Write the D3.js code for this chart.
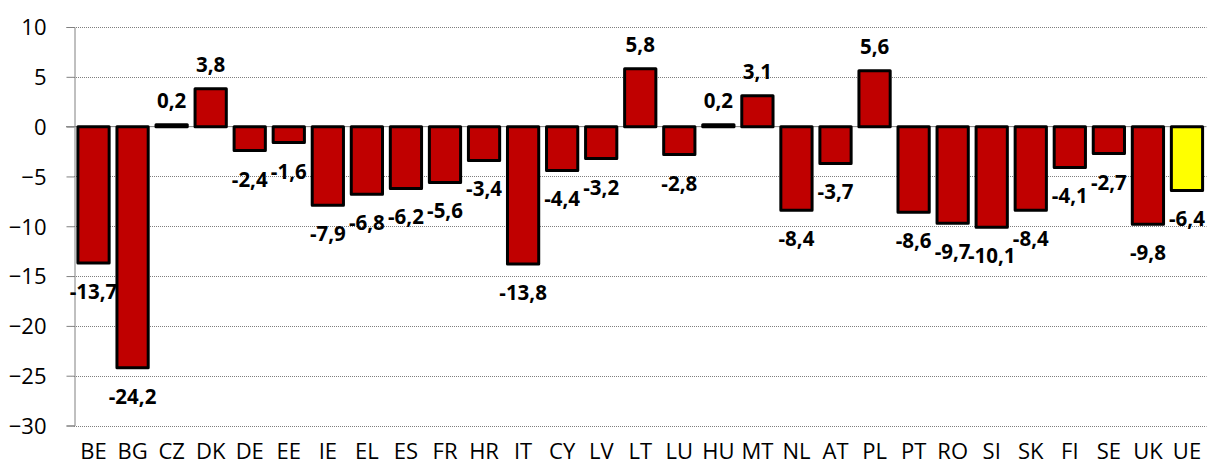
<!DOCTYPE html>
<html>
<head>
<meta charset="utf-8">
<script src="https://cdn.jsdelivr.net/npm/d3@7"></script>
<style>
  html, body { margin: 0; padding: 0; background: #fff; }
  svg { display: block; }
  text { font-family: "Open Sans", "Liberation Sans", sans-serif; }
</style>
</head>
<body>
<svg id="chart" width="1208" height="468"></svg>
<script>
const categories = ["BE","BG","CZ","DK","DE","EE","IE","EL","ES","FR","HR","IT","CY","LV","LT","LU","HU","MT","NL","AT","PL","PT","RO","SI","SK","FI","SE","UK","UE"];
const values = [-13.7,-24.2,0.2,3.8,-2.4,-1.6,-7.9,-6.8,-6.2,-5.6,-3.4,-13.8,-4.4,-3.2,5.8,-2.8,0.2,3.1,-8.4,-3.7,5.6,-8.6,-9.7,-10.1,-8.4,-4.1,-2.7,-9.8,-6.4];
const yTicks = [10,5,0,-5,-10,-15,-20,-25,-30];
const highlight = ["UE"];

const svg = d3.select("#chart");
const mLeft = 74, mRight = 1206.5, mTop = 27, mBottom = 425.5;

const x = d3.scaleBand().domain(categories).range([mLeft, mRight]).paddingInner(0.2).paddingOuter(0.1);
const y = d3.scaleLinear().domain([-30, 10]).range([mBottom, mTop]);

// gridlines
svg.append("g").selectAll("line")
  .data(yTicks.filter(d => d !== 0))
  .join("line")
  .attr("x1", mLeft).attr("x2", mRight)
  .attr("y1", d => Math.round(y(d)) + 0.5).attr("y2", d => Math.round(y(d)) + 0.5)
  .attr("stroke", "#7f7f7f").attr("stroke-width", 1).attr("stroke-dasharray", "1,1");

// y axis
const yAxis = d3.axisLeft(y).tickValues(yTicks).tickSize(8).tickPadding(20).tickFormat(d3.format("d"));
const gy = svg.append("g").attr("transform", `translate(${mLeft + 0.5},0)`).call(yAxis);
gy.select(".domain").attr("stroke", "#808080");
gy.selectAll(".tick line").attr("stroke", "#808080");
gy.selectAll(".tick text").attr("font-size", 22).attr("fill", "#000")
  .attr("font-family", "'Open Sans', sans-serif").attr("dy", "0.36em");

// zero line
svg.append("line")
  .attr("x1", mLeft - 8).attr("x2", mRight)
  .attr("y1", y(0)).attr("y2", y(0))
  .attr("stroke", "#808080").attr("stroke-width", 1);

// bars
svg.append("g").selectAll("rect")
  .data(values.map((v, i) => ({c: categories[i], v})))
  .join("rect")
  .attr("x", d => x(d.c))
  .attr("width", x.bandwidth())
  .attr("y", d => y(Math.max(0, d.v)))
  .attr("height", d => Math.abs(y(d.v) - y(0)))
  .attr("fill", d => highlight.includes(d.c) ? "#FFFF00" : "#C00000")
  .attr("stroke", "#000").attr("stroke-width", 3).attr("stroke-linejoin", "round");

// x axis labels
const xAxis = d3.axisBottom(x).tickSize(0).tickPadding(0);
const gx = svg.append("g").attr("transform", `translate(0,${mBottom})`).call(xAxis);
gx.select(".domain").remove();
gx.selectAll(".tick text").attr("font-size", 22).attr("fill", "#000")
  .attr("font-family", "'Open Sans', sans-serif").attr("dy", null).attr("y", 33);

// value labels
const fmt = v => d3.format(".1f")(v).replace(".", ",").replace("−", "-");
svg.append("g").selectAll("text")
  .data(values.map((v, i) => ({c: categories[i], v})))
  .join("text")
  .attr("x", d => x(d.c) + x.bandwidth() / 2)
  .attr("y", d => d.v >= 0 ? y(d.v) - 17 : y(d.v) + 36)
  .attr("text-anchor", "middle")
  .attr("font-size", 20.5).attr("font-weight", "bold").attr("fill", "#000")
  .text(d => fmt(d.v));
</script>
</body>
</html>
